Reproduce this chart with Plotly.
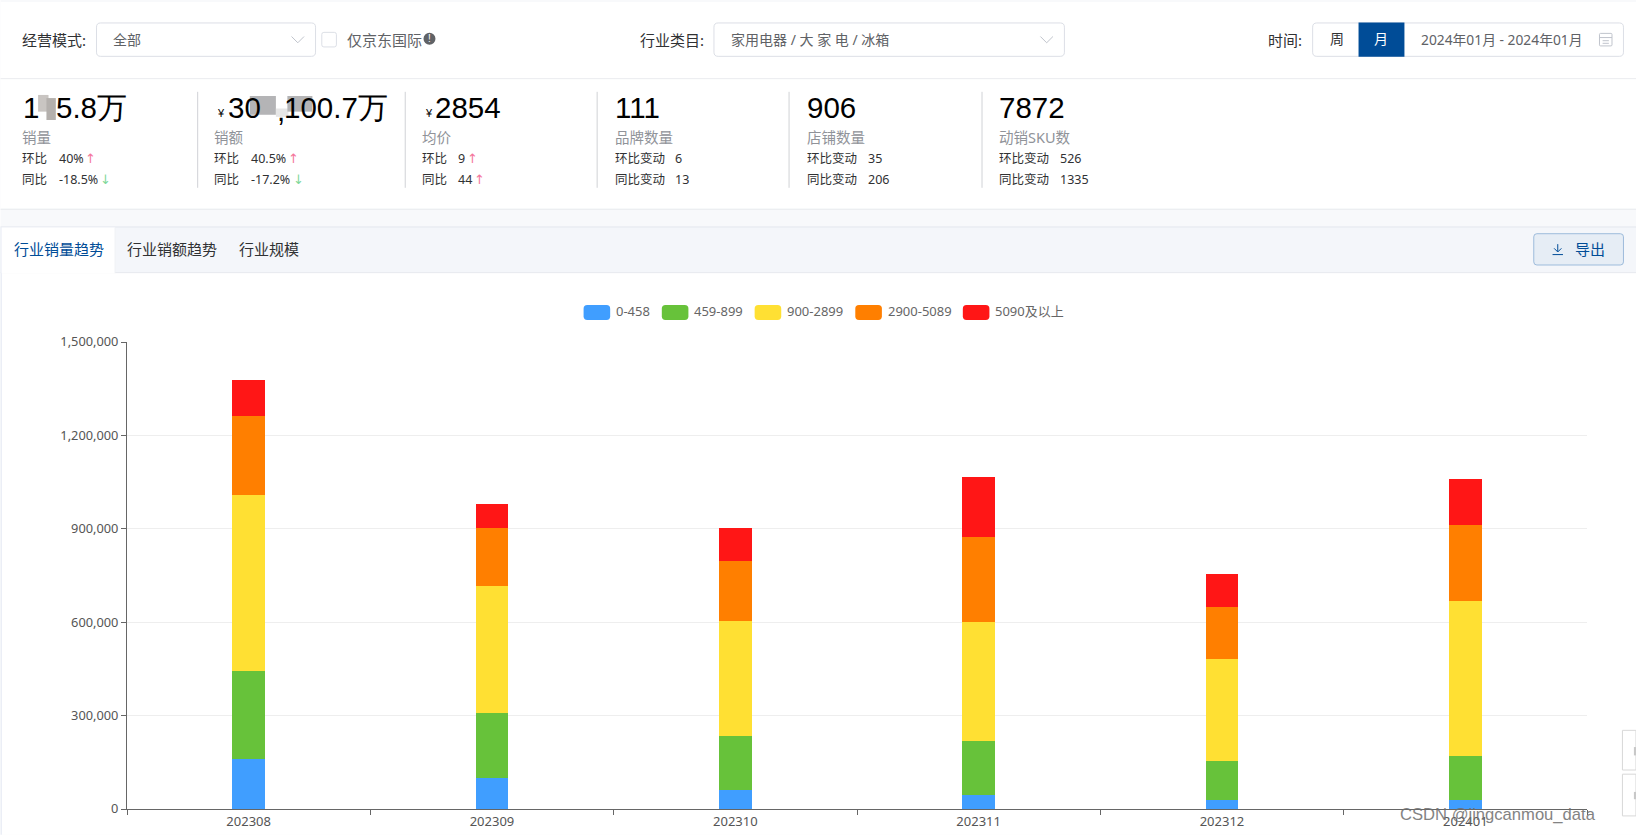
import plotly.graph_objects as go

# ---------- chart data ----------
months = ["202308", "202309", "202310", "202311", "202312", "202401"]
band_names = ["0-458", "459-899", "900-2899", "2900-5089", "5090及以上"]
band_colors = ["#409eff", "#67c23a", "#ffe033", "#ff7f00", "#ff1616"]
band_0_458 = [160000, 98000, 62000, 46000, 28000, 30000]
band_459_899 = [282000, 209000, 173000, 171000, 125000, 141000]
band_900_2899 = [567000, 408000, 368000, 385000, 328000, 497000]
band_2900_5089 = [253000, 188000, 194000, 272000, 167000, 243000]
band_5090_up = [115000, 76000, 106000, 191000, 108000, 148000]
y_ticks = [0, 300000, 600000, 900000, 1200000, 1500000]
legend_swatch_x = [559, 634, 723, 819.5, 922.6]

# ---------- summary card data ----------
card_x = [21, 205, 404, 589, 773, 957]
card_labels = ["销量", "销额", "均价", "品牌数量", "店铺数量", "动销SKU数"]
row1_names = ["环比", "环比", "环比", "环比变动", "环比变动", "环比变动"]
row2_names = ["同比", "同比", "同比", "同比变动", "同比变动", "同比变动"]
row1_values = ["40%", "40.5%", "9", "6", "35", "526"]
row2_values = ["-18.5%", "-17.2%", "44", "13", "206", "1335"]
value_x = [56, 240, 439, 647, 832, 1016]
row1_arrow = [("↑", 81), ("↑", 276), ("↑", 447), None, None, None]
row2_arrow = [("↓", 95), ("↓", 280), ("↑", 454), None, None, None]
dividers = [189, 388, 572, 756, 941]
tabs = [("行业销量趋势", 13, "#004c97"), ("行业销额趋势", 121, "#303133"), ("行业规模", 229, "#303133")]

# ---------- geometry ----------
W, H = 1636, 835
L, R, T, B = 126.5, 1587, 342, 809
S = W / 1568


def px(x):
    return (x * S - L) / (R - L)


def py(y):
    return (B - y * S) / (B - T)


shapes, notes = [], []
CJK = "Noto Sans, Noto Sans CJK SC, sans-serif"
ARIAL = "Liberation Sans, Arial, sans-serif"


def rect(x0, y0, x1, y1, fill="rgba(0,0,0,0)", line=None, lw=1, layer="below"):
    shapes.append(dict(type="rect", xref="paper", yref="paper", x0=px(x0), x1=px(x1),
                       y0=py(y1), y1=py(y0), fillcolor=fill, layer=layer,
                       line=dict(color=line or "rgba(0,0,0,0)", width=lw if line else 0)))


def rrect(x0, y0, x1, y1, r=4, fill="rgba(0,0,0,0)", line=None, lw=1):
    p = lambda x, y: f"{px(x)},{py(y)}"
    d = (f"M{p(x0 + r, y0)}L{p(x1 - r, y0)}Q{p(x1, y0)} {p(x1, y0 + r)}"
         f"L{p(x1, y1 - r)}Q{p(x1, y1)} {p(x1 - r, y1)}"
         f"L{p(x0 + r, y1)}Q{p(x0, y1)} {p(x0, y1 - r)}"
         f"L{p(x0, y0 + r)}Q{p(x0, y0)} {p(x0 + r, y0)}Z")
    shapes.append(dict(type="path", xref="paper", yref="paper", path=d, fillcolor=fill,
                       layer="below", line=dict(color=line or "rgba(0,0,0,0)", width=lw if line else 0)))


def poly(points, color, lw=1):
    d = "M" + "L".join(f"{px(x)},{py(y)}" for x, y in points)
    shapes.append(dict(type="path", xref="paper", yref="paper", path=d, layer="below",
                       line=dict(color=color, width=lw)))


def txt(x, y, s, size=12, color="#303133", family=CJK, anchor="left", opacity=1):
    notes.append(dict(xref="paper", yref="paper", x=px(x), y=py(y), text=s, showarrow=False,
                      xanchor=anchor, yanchor="middle", borderpad=0, borderwidth=0, opacity=opacity,
                      font=dict(size=size, color=color, family=family)))


# page background and panels
rect(0, 0, 1568, 800, fill="#f8f9fb")
rect(0, 2, 1568, 75, fill="#ffffff")
rect(0, 75, 1568, 76, fill="#e8eaee")
rect(0, 76, 1568, 200, fill="#ffffff")
rect(0, 200, 1568, 201, fill="#e8eaee")
rect(0, 217, 1568, 261, fill="#f4f6fa")
rect(0, 217, 1568, 218, fill="#e4e7ed")
rect(0, 261, 1568, 262, fill="#e4e7ed")
rect(0, 262, 1568, 800, fill="#ffffff")
rect(0, 218, 1.3, 800, fill="#e9edf5")
rect(1, 218, 110, 262, fill="#ffffff")
rect(109.5, 218, 110, 262, fill="#e4e7ed")

# filter row
txt(21, 38, "经营模式:", 15)
rrect(92, 22, 302, 54, fill="#ffffff", line="#dcdfe6")
txt(108, 38, "全部", 14, "#606266")
poly([(279, 35), (285, 41), (291, 35)], "#c0c4cc")
rrect(308, 31, 322, 45, r=2, fill="#ffffff", line="#dcdfe6")
txt(332, 38, "仅京东国际", 15, "#606266")
shapes.append(dict(type="circle", xref="paper", yref="paper", x0=px(405.5), x1=px(417), y0=py(43), y1=py(31.5),
                   fillcolor="#606266", layer="below", line=dict(width=0)))
txt(411.2, 37.2, "!", 10, "#ffffff", ARIAL, "center")
txt(613, 38, "行业类目:", 15)
rrect(684, 22, 1020, 54, fill="#ffffff", line="#dcdfe6")
txt(700, 38, "家用电器 / 大 家 电 / 冰箱", 14, "#606266")
poly([(997, 35), (1003, 41), (1009, 35)], "#c0c4cc")
txt(1215, 38, "时间:", 15)
rrect(1258, 22, 1556, 54, fill="#ffffff", line="#dcdfe6")
rect(1302, 21.5, 1346, 54.5, fill="#004c97")
txt(1281, 37, "周", 14, "#303133", anchor="center")
txt(1324, 37, "月", 14, "#ffffff", anchor="center")
txt(1362, 38, "2024年01月 - 2024年01月", 13.8, "#606266")
rrect(1533, 32, 1545, 44, r=1, line="#c0c4cc")
poly([(1533, 36), (1545, 36)], "#c0c4cc")
poly([(1536, 39), (1542, 39)], "#c0c4cc")
poly([(1536, 41.5), (1542, 41.5)], "#c0c4cc")

# summary cards
for x in dividers:
    poly([(x, 88), (x, 180)], "#d0d2d6")
BIG = 29.5
txt(22, 103, "1", BIG, "#000000", ARIAL)
rect(36, 91, 46, 107, fill="#c9c5c2")
rect(44, 94, 53, 115, fill="#b4b0ad")
txt(53, 103, "5.8万", BIG, "#000000", ARIAL)
txt(208, 108, "¥", 11, "#000000", ARIAL)
txt(218, 103, "30", BIG, "#000000", ARIAL)
rect(239, 92, 264, 110, fill="#b4b4b6")
rect(264, 104, 276, 112, fill="#e6e6e6")
txt(265, 106, ",", BIG, "#000000", ARIAL)
rect(275, 92, 299, 107, fill="#b4b4b6")
txt(272, 103, "100.7万", BIG, "#000000", ARIAL)
txt(407, 108, "¥", 11, "#000000", ARIAL)
txt(417, 103, "2854", BIG, "#000000", ARIAL)
txt(589, 103, "111", BIG, "#000000", ARIAL)
txt(773, 103, "906", BIG, "#000000", ARIAL)
txt(957, 103, "7872", BIG, "#000000", ARIAL)
for i, x in enumerate(card_x):
    txt(x, 131, card_labels[i], 14.5, "#909399")
    txt(x, 152, row1_names[i], 12.5)
    txt(x, 172, row2_names[i], 12.5)
    txt(value_x[i], 152, row1_values[i], 12.5)
    txt(value_x[i], 172, row2_values[i], 12.5)
    for row, y in ((row1_arrow, 152), (row2_arrow, 172)):
        if row[i]:
            glyph, ax = row[i]
            txt(ax, y, glyph, 13, "#f4769b" if glyph == "↑" else "#7fd89a", "DejaVu Sans, sans-serif")

# tab bar
for label, x, color in tabs:
    txt(x, 239, label, 15, color)
rrect(1470, 224, 1556, 254, r=3, fill="#e6edf5", line="#9dbbdb")
poly([(1493, 234), (1493, 241)], "#004c97")
poly([(1489.5, 238), (1493, 241.5), (1496.5, 238)], "#004c97")
poly([(1488, 244), (1498, 244)], "#004c97")
txt(1510, 239, "导出", 15, "#004c97")

# legend
for name, color, x in zip(band_names, band_colors, legend_swatch_x):
    rrect(x, 292.3, x + 25.5, 306.7, r=3.5, fill=color)
    txt(x + 31, 298.5, name, 13, "#666666")

# side widgets and watermark
rect(1555, 700, 1568, 738, fill="#ffffff", line="#d8d8d8")
rect(1555, 742, 1568, 782, fill="#ffffff", line="#d8d8d8")
rect(1566, 716, 1568, 724, fill="#c8c8c8")
rect(1566, 759, 1568, 766, fill="#c8c8c8")
txt(1342, 781, "CSDN @jingcanmou_data", 16.6, "#6e6e6e", ARIAL, opacity=0.85)

series = [band_0_458, band_459_899, band_900_2899, band_2900_5089, band_5090_up]
fig = go.Figure()
for name, color, vals in zip(band_names, band_colors, series):
    fig.add_trace(go.Bar(x=months, y=vals, name=name, marker=dict(color=color, line=dict(width=0)), width=0.133))

fig.update_layout(
    width=W, height=H, barmode="stack", showlegend=False,
    paper_bgcolor="#ffffff", plot_bgcolor="rgba(0,0,0,0)",
    margin=dict(l=L, r=W - R, t=T, b=H - B, pad=0, autoexpand=False),
    font=dict(family=CJK, size=13, color="#555555"),
    shapes=shapes, annotations=notes,
    xaxis=dict(type="category", automargin=False, tickson="boundaries", ticks="outside", ticklen=5,
               tickcolor="#666666", showline=True, linecolor="#666666", linewidth=1, showgrid=False,
               tickfont=dict(size=13, color="#555555")),
    yaxis=dict(range=[0, 1500000], automargin=False, tickvals=y_ticks, tickformat=",", ticks="outside", ticklen=5,
               tickcolor="#666666", showline=True, linecolor="#666666", linewidth=1,
               gridcolor="#eeeeee", zeroline=False, tickfont=dict(size=12.8, color="#555555")),
)
fig.write_html("out.html", config=dict(displayModeBar=False),
               post_script="document.body.style.margin='0';document.body.style.overflow='hidden';")
